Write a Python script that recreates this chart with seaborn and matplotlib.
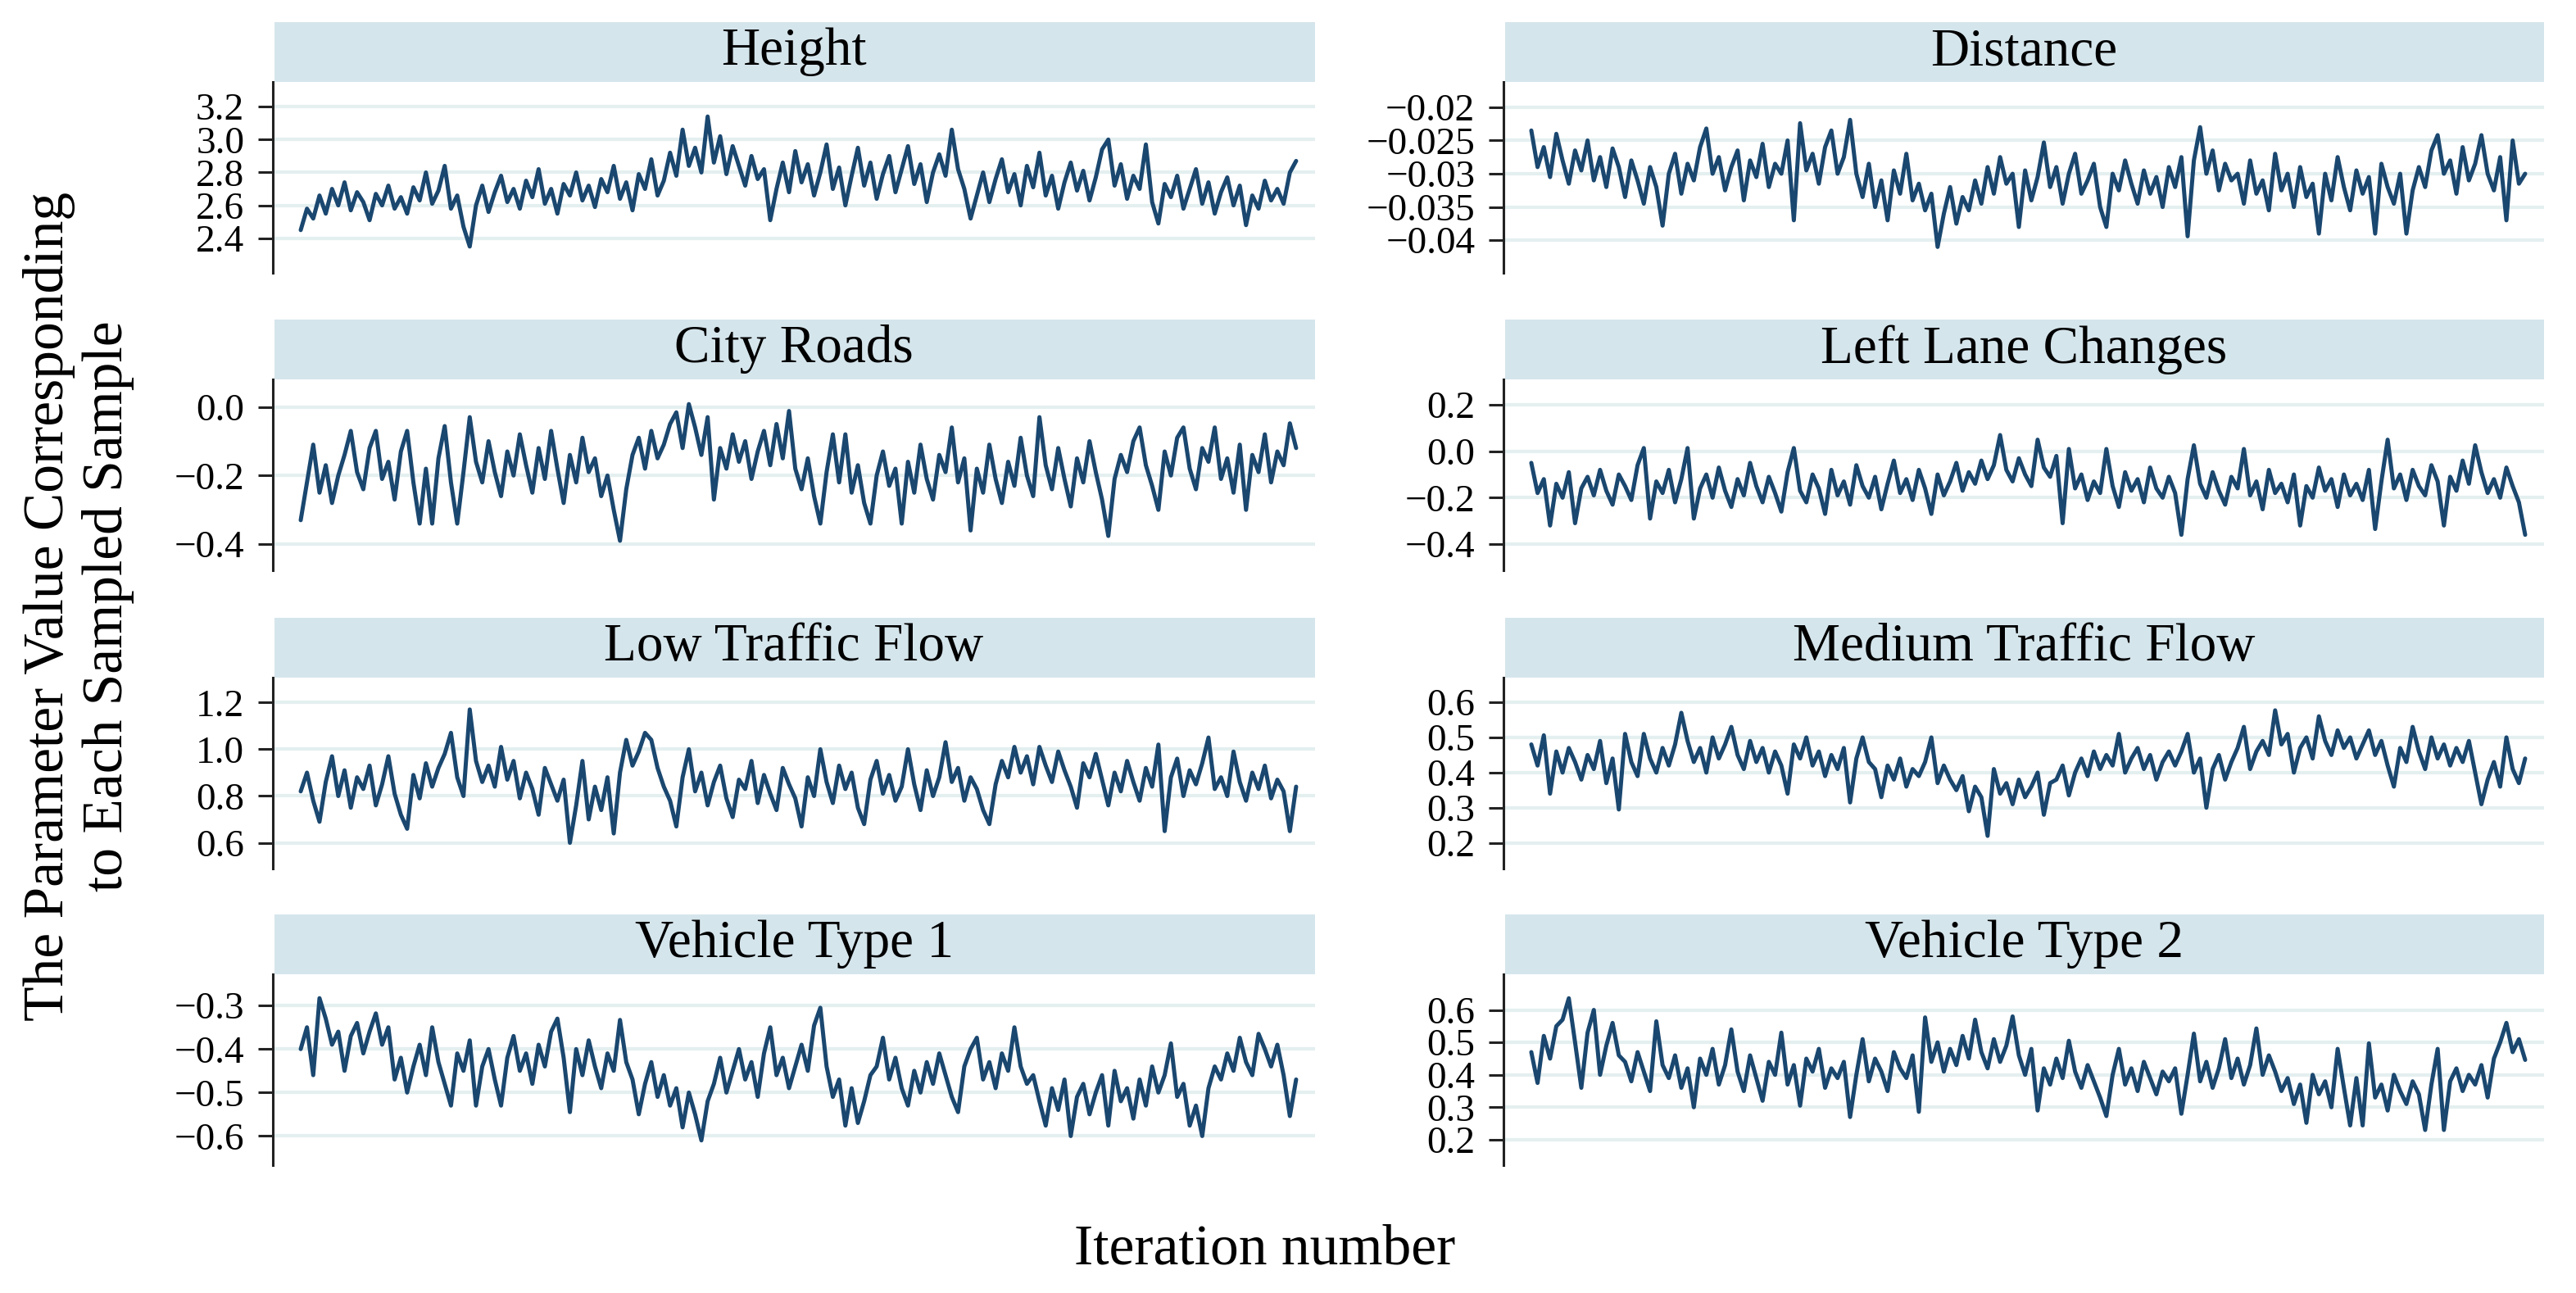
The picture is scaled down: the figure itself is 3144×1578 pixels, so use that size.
import numpy as np
import pandas as pd
import matplotlib
matplotlib.use("Agg")
import matplotlib.pyplot as plt
from matplotlib.patches import Rectangle
import seaborn as sns

# trace values (thinned, approx.)
height = [2.45, 2.58, 2.52, 2.66, 2.55, 2.70, 2.60, 2.74, 2.57, 2.68, 2.62, 2.51, 2.67, 2.60, 2.72, 2.58, 2.65, 2.55, 2.71, 2.63, 2.80, 2.61, 2.69, 2.84, 2.58, 2.66, 2.47,
          2.35,
          2.60, 2.72, 2.56, 2.68, 2.78, 2.62, 2.70, 2.58, 2.75, 2.65, 2.82, 2.61, 2.70, 2.55, 2.73, 2.66, 2.80, 2.63, 2.72, 2.59, 2.76, 2.68, 2.84, 2.64, 2.74, 2.57, 2.79, 2.70, 2.88, 2.66, 2.75,
          2.92, 2.78, 3.06, 2.84, 2.95, 2.80, 3.14, 2.86, 3.02, 2.79, 2.96,
          2.84, 2.72, 2.90, 2.76, 2.82, 2.51, 2.70, 2.86, 2.68, 2.93, 2.74,
          2.85, 2.66, 2.80, 2.97, 2.70, 2.83, 2.60, 2.78, 2.95, 2.72, 2.86, 2.64, 2.79, 2.90, 2.68, 2.82, 2.96, 2.73, 2.85, 2.62, 2.80, 2.91,
          2.78, 3.06, 2.82, 2.70, 2.52,
          2.66, 2.80, 2.62, 2.76, 2.88, 2.68, 2.79, 2.60, 2.84, 2.71, 2.92, 2.66, 2.78, 2.58, 2.74, 2.86, 2.69, 2.81, 2.63, 2.77, 2.94, 3.00, 2.72, 2.85, 2.64, 2.78, 2.70, 2.97,
          2.62, 2.49, 2.73, 2.65, 2.78, 2.58, 2.70, 2.82, 2.61, 2.74, 2.55, 2.68, 2.77, 2.60, 2.72, 2.48, 2.66, 2.58, 2.75, 2.63, 2.70, 2.61, 2.80, 2.87]

distance = [-0.0235, -0.0290, -0.0260, -0.0305, -0.0240, -0.0280, -0.0315, -0.0265, -0.0295, -0.0250, -0.0310, -0.0275, -0.0320, -0.0262, -0.0290,
            -0.0335, -0.0280, -0.0310, -0.0345, -0.0290, -0.0320, -0.0378, -0.0300, -0.0270, -0.0330, -0.0285,
            -0.0310, -0.0260, -0.0232, -0.0300, -0.0275, -0.0325, -0.0290, -0.0265, -0.0340, -0.0280, -0.0305, -0.0255, -0.0320, -0.0285, -0.0300, -0.0250, -0.0370, -0.0224, -0.0295, -0.0270, -0.0315, -0.0260, -0.0235, -0.0300, -0.0275, -0.0219,
            -0.0300, -0.0335, -0.0285, -0.0350, -0.0310, -0.0370, -0.0295, -0.0330, -0.0270, -0.0340, -0.0315, -0.0355,
            -0.0330, -0.0410, -0.0360, -0.0320, -0.0375, -0.0335, -0.0355, -0.0310, -0.0345,
            -0.0290, -0.0330, -0.0275, -0.0315, -0.0300, -0.0380, -0.0295, -0.0340, -0.0305, -0.0253, -0.0320, -0.0290, -0.0345, -0.0300, -0.0270, -0.0330, -0.0310, -0.0285, -0.0350, -0.0380, -0.0300, -0.0325, -0.0280, -0.0315, -0.0345, -0.0295, -0.0330, -0.0305, -0.0350,
            -0.0290, -0.0320, -0.0275, -0.0394, -0.0280, -0.0230, -0.0300, -0.0265, -0.0325, -0.0285, -0.0310,
            -0.0300, -0.0345, -0.0280, -0.0330, -0.0310, -0.0355, -0.0270, -0.0325, -0.0300, -0.0350, -0.0290, -0.0335, -0.0315, -0.0390, -0.0300, -0.0340, -0.0275, -0.0320, -0.0355, -0.0295, -0.0330, -0.0305, -0.0390, -0.0285, -0.0320, -0.0345, -0.0300, -0.0390, -0.0325,
            -0.0290, -0.0320, -0.0265, -0.0242, -0.0300, -0.0280, -0.0330, -0.0260, -0.0310, -0.0285, -0.0242, -0.0300, -0.0325, -0.0275, -0.0370, -0.0250, -0.0315, -0.0300]

city_roads = [-0.33, -0.22, -0.11, -0.25, -0.17, -0.28, -0.20, -0.14, -0.07, -0.19, -0.24, -0.12, -0.07, -0.21, -0.16, -0.27, -0.13, -0.07, -0.22,
              -0.34, -0.18, -0.34, -0.15, -0.056, -0.22, -0.34, -0.19,
              -0.03, -0.16, -0.22, -0.10, -0.19, -0.26, -0.13, -0.20, -0.08, -0.17, -0.25, -0.12, -0.21, -0.07, -0.18, -0.28, -0.14, -0.22, -0.09, -0.19, -0.15, -0.26,
              -0.20, -0.30, -0.39, -0.24, -0.14,
              -0.09, -0.18, -0.07, -0.15, -0.11,
              -0.05, -0.016, -0.12, 0.008, -0.06, -0.14, -0.03,
              -0.27, -0.12, -0.18, -0.08, -0.16, -0.10, -0.21, -0.13, -0.07, -0.17, -0.05, -0.15, -0.012,
              -0.18, -0.24, -0.15, -0.26, -0.34, -0.19, -0.08, -0.22, -0.08, -0.25, -0.17, -0.28, -0.34, -0.20, -0.13, -0.23, -0.18, -0.34, -0.16, -0.25, -0.11, -0.21, -0.27, -0.14,
              -0.19, -0.06, -0.22, -0.15, -0.36, -0.18, -0.25, -0.11, -0.21, -0.28, -0.16, -0.23, -0.09, -0.20, -0.26, -0.03, -0.17, -0.24, -0.12, -0.21, -0.29, -0.15, -0.22, -0.10, -0.19, -0.27, -0.376,
              -0.21, -0.14, -0.19, -0.10, -0.06, -0.17, -0.23, -0.30, -0.13, -0.20, -0.09, -0.06, -0.18, -0.24, -0.12, -0.16, -0.06, -0.21, -0.15, -0.25, -0.11, -0.30, -0.14, -0.19, -0.08, -0.22, -0.13, -0.17, -0.048, -0.12]

left_lane = [-0.05, -0.18, -0.12, -0.32, -0.14, -0.20, -0.09, -0.31, -0.16, -0.11,
             -0.19, -0.08, -0.17, -0.23, -0.10, -0.15, -0.21, -0.06,
             0.014, -0.29, -0.13, -0.18, -0.08, -0.22, -0.12, 0.014, -0.29,
             -0.16, -0.10, -0.20, -0.07, -0.17, -0.24, -0.12, -0.19, -0.05, -0.15, -0.22, -0.11, -0.18, -0.26, -0.09,
             0.014,
             -0.17, -0.22, -0.10, -0.16, -0.27, -0.08, -0.19, -0.13, -0.23, -0.06, -0.15, -0.20, -0.11, -0.25, -0.14, -0.04, -0.18, -0.12, -0.21, -0.08, -0.16, -0.27, -0.10, -0.19, -0.13, -0.05, -0.17,
             -0.09, -0.14, -0.04, -0.12, -0.06, 0.07, -0.08, -0.13, -0.03, -0.10, -0.15, 0.05, -0.07, -0.11, -0.02,
             -0.31, 0.01, -0.16, -0.10, -0.21, -0.13, -0.18, 0.01, -0.15, -0.24, -0.09, -0.17, -0.12, -0.22, -0.07, -0.16, -0.20, -0.11, -0.18,
             -0.36, -0.12, 0.026,
             -0.14, -0.20, -0.09, -0.17, -0.23, -0.11, -0.16, 0.01, -0.19, -0.13, -0.25, -0.08, -0.18, -0.14, -0.22, -0.10, -0.32, -0.15, -0.20, -0.07, -0.17, -0.12, -0.24, -0.10, -0.19, -0.14, -0.21, -0.08,
             -0.335, -0.13, 0.05,
             -0.16, -0.10, -0.21, -0.08, -0.15, -0.19, -0.06, -0.13, -0.32, -0.11, -0.17, -0.04, -0.14, 0.026, -0.09, -0.18, -0.12, -0.20, -0.07, -0.15, -0.22,
             -0.36]

low_traffic = [0.82, 0.90, 0.78, 0.69, 0.86, 0.97, 0.80, 0.91, 0.75, 0.88, 0.83, 0.93, 0.76, 0.85, 0.97, 0.81, 0.72, 0.66, 0.89, 0.79, 0.94, 0.84,
               0.92, 0.98, 1.07, 0.88, 0.80, 1.17, 0.95, 0.86,
               0.93, 0.84, 1.01, 0.87, 0.95, 0.79, 0.90, 0.83, 0.72, 0.92, 0.85,
               0.78, 0.87, 0.60, 0.76, 0.95, 0.70, 0.84, 0.74, 0.88, 0.64,
               0.90, 1.04, 0.93, 0.99, 1.07, 1.04, 0.92,
               0.84, 0.78, 0.67, 0.88, 1.00, 0.82, 0.90, 0.76, 0.86, 0.93, 0.79, 0.71, 0.87, 0.83, 0.95, 0.77, 0.89, 0.81, 0.74, 0.92, 0.85, 0.79, 0.67,
               0.88, 0.80, 1.00, 0.86, 0.77, 0.93, 0.83, 0.90, 0.75, 0.68, 0.87, 0.95, 0.81, 0.89, 0.78, 0.84, 1.00, 0.85, 0.74, 0.91, 0.80, 0.88,
               1.03, 0.86, 0.92, 0.78, 0.88, 0.83, 0.74, 0.68, 0.85,
               0.95, 0.88, 1.01, 0.90, 0.97, 0.85, 1.01, 0.93, 0.86, 0.99, 0.91, 0.84, 0.75, 0.94, 0.88, 0.98, 0.87, 0.76,
               0.90, 0.82, 0.95, 0.86, 0.78, 0.92, 0.84, 1.02, 0.65, 0.88, 0.96, 0.80, 0.91, 0.85, 0.94, 1.05, 0.83,
               0.88, 0.80, 0.99, 0.86, 0.78, 0.90, 0.83, 0.93, 0.79, 0.87, 0.82, 0.65, 0.84]

medium_traffic = [0.48, 0.42, 0.506, 0.34, 0.46, 0.40, 0.47, 0.43, 0.38, 0.45, 0.41, 0.49, 0.37, 0.44, 0.295, 0.51, 0.43, 0.39, 0.51, 0.44, 0.40, 0.47, 0.42, 0.48,
                  0.57,
                  0.49, 0.43, 0.47, 0.40, 0.50, 0.44, 0.48, 0.53, 0.45, 0.41, 0.49, 0.43, 0.47, 0.40, 0.46, 0.42, 0.34, 0.48, 0.44, 0.50, 0.42, 0.46, 0.39, 0.45, 0.41, 0.47, 0.315, 0.44, 0.50, 0.43,
                  0.41, 0.33, 0.42, 0.38, 0.44, 0.36, 0.41, 0.39, 0.43, 0.50, 0.37, 0.42, 0.38,
                  0.35, 0.39, 0.29, 0.36, 0.33, 0.22, 0.41, 0.34, 0.37, 0.31, 0.38, 0.33, 0.36, 0.40, 0.28, 0.37,
                  0.38, 0.42, 0.335, 0.40, 0.44, 0.39, 0.46, 0.41, 0.45, 0.42, 0.51, 0.40, 0.44, 0.47, 0.41, 0.45, 0.38, 0.43, 0.46,
                  0.42, 0.46, 0.51, 0.40, 0.44, 0.30, 0.41, 0.45, 0.38, 0.43, 0.47, 0.53, 0.41, 0.46,
                  0.49, 0.45, 0.577, 0.48, 0.51, 0.40, 0.47, 0.50, 0.44, 0.56, 0.49, 0.45, 0.52, 0.47, 0.50, 0.44, 0.48, 0.52,
                  0.45, 0.49, 0.42, 0.36, 0.47, 0.43, 0.53, 0.46, 0.41, 0.50, 0.44, 0.48, 0.42, 0.47, 0.43, 0.49,
                  0.40, 0.31, 0.38, 0.43, 0.36, 0.50, 0.41, 0.37, 0.44]

vehicle_type1 = [-0.40, -0.35, -0.46, -0.283, -0.33, -0.39, -0.36, -0.45, -0.37, -0.34, -0.41, -0.36, -0.318, -0.39, -0.35,
                 -0.47, -0.42, -0.50, -0.44, -0.39, -0.46, -0.35, -0.43, -0.48, -0.53, -0.41, -0.45, -0.38, -0.53, -0.44, -0.40, -0.47, -0.53, -0.42, -0.37, -0.45, -0.41, -0.48, -0.39, -0.44, -0.36, -0.33,
                 -0.42, -0.545, -0.40, -0.46, -0.38, -0.44, -0.49, -0.41, -0.45, -0.333, -0.43,
                 -0.47, -0.55, -0.48, -0.43, -0.51, -0.46, -0.53, -0.49, -0.58, -0.50, -0.55, -0.61, -0.52,
                 -0.48, -0.42, -0.50, -0.45, -0.40, -0.47, -0.43, -0.51, -0.41, -0.35, -0.46, -0.42, -0.49, -0.44, -0.39, -0.45, -0.346, -0.305,
                 -0.44, -0.51, -0.47, -0.576, -0.49, -0.57, -0.52, -0.46,
                 -0.44, -0.374, -0.47, -0.42, -0.49, -0.53, -0.45, -0.50, -0.43, -0.48, -0.41, -0.46, -0.51, -0.545, -0.44, -0.40, -0.374, -0.47, -0.43, -0.49, -0.41, -0.45, -0.35, -0.44, -0.48,
                 -0.46, -0.52, -0.576, -0.49, -0.54, -0.47, -0.60, -0.51, -0.48, -0.55, -0.50, -0.46, -0.576, -0.45, -0.52, -0.49, -0.56, -0.47, -0.53, -0.44, -0.50, -0.46, -0.387, -0.51, -0.48, -0.576, -0.53, -0.60,
                 -0.49, -0.44, -0.47, -0.41, -0.45, -0.374, -0.43, -0.46, -0.365, -0.40, -0.44, -0.39, -0.46, -0.554, -0.47]

vehicle_type2 = [0.47, 0.375, 0.52, 0.45, 0.55, 0.57, 0.636, 0.50, 0.36, 0.53, 0.60, 0.40, 0.49, 0.56, 0.46,
                 0.44, 0.38, 0.47, 0.41, 0.35, 0.565, 0.43, 0.39, 0.46, 0.36, 0.42, 0.30, 0.45, 0.40, 0.48, 0.37, 0.43, 0.54, 0.41, 0.35, 0.46, 0.39, 0.32, 0.44, 0.40, 0.53, 0.37, 0.43, 0.305, 0.45, 0.41, 0.48, 0.36, 0.42, 0.39,
                 0.44, 0.27, 0.40, 0.51, 0.38, 0.45, 0.41, 0.35, 0.47, 0.42, 0.39, 0.46, 0.286,
                 0.577, 0.44, 0.50, 0.41, 0.48, 0.43, 0.52, 0.45, 0.57, 0.47, 0.42, 0.51, 0.44, 0.49, 0.58, 0.46, 0.40, 0.48,
                 0.29, 0.42, 0.37, 0.45, 0.39, 0.505, 0.41, 0.36, 0.43, 0.38, 0.33, 0.273, 0.40, 0.48, 0.37, 0.42, 0.35, 0.44, 0.39, 0.34, 0.41, 0.38,
                 0.42, 0.28, 0.40, 0.527, 0.38, 0.44, 0.36, 0.42, 0.51, 0.39, 0.45, 0.37, 0.43, 0.543, 0.40, 0.46,
                 0.41, 0.35, 0.39, 0.31, 0.37, 0.252, 0.40, 0.34, 0.38, 0.30, 0.48, 0.36, 0.244, 0.39, 0.244, 0.497, 0.33, 0.37, 0.29, 0.40, 0.35, 0.31, 0.38, 0.34, 0.23, 0.37, 0.48, 0.23,
                 0.38, 0.42, 0.35, 0.40, 0.37, 0.43, 0.33,
                 0.45, 0.50, 0.56, 0.47, 0.51, 0.446]

titles = ["Height", "Distance", "City Roads", "Left Lane Changes",
          "Low Traffic Flow", "Medium Traffic Flow", "Vehicle Type 1", "Vehicle Type 2"]
series = [height, distance, city_roads, left_lane,
          low_traffic, medium_traffic, vehicle_type1, vehicle_type2]

tick_values = [[2.4, 2.6, 2.8, 3.0, 3.2],
               [-0.04, -0.035, -0.03, -0.025, -0.02],
               [-0.4, -0.2, 0.0],
               [-0.4, -0.2, 0.0, 0.2],
               [0.6, 0.8, 1.0, 1.2],
               [0.2, 0.3, 0.4, 0.5, 0.6],
               [-0.6, -0.5, -0.4, -0.3],
               [0.2, 0.3, 0.4, 0.5, 0.6]]
tick_labels = [["2.4", "2.6", "2.8", "3.0", "3.2"],
               ["\u22120.04", "\u22120.035", "\u22120.03", "\u22120.025", "\u22120.02"],
               ["\u22120.4", "\u22120.2", "0.0"],
               ["\u22120.4", "\u22120.2", "0.0", "0.2"],
               ["0.6", "0.8", "1.0", "1.2"],
               ["0.2", "0.3", "0.4", "0.5", "0.6"],
               ["\u22120.6", "\u22120.5", "\u22120.4", "\u22120.3"],
               ["0.2", "0.3", "0.4", "0.5", "0.6"]]
y_limits = [(2.19, 3.35), (-0.0449, -0.0162), (-0.476, 0.08), (-0.513, 0.31),
            (0.49, 1.306), (0.127, 0.670), (-0.667, -0.228), (0.1215, 0.71)]

sns.set_theme(style="white")
plt.rcParams["font.family"] = ["Liberation Serif", "DejaVu Serif"]

W, H = 3144, 1578
fig = plt.figure(figsize=(W / 100, H / 100), dpi=100)

line_color = "#1a476f"
strip_color = "#d5e5ec"
grid_color = "#e4eff0"

col_left = [333, 1835]
col_right = [1605, 3105]
row_top = [100, 463, 827, 1189]
row_h = 233
strip_h = 73

for k, (name, vals) in enumerate(zip(titles, series)):
    r, c = divmod(k, 2)
    x0, x1 = col_left[c], col_right[c]
    y0 = row_top[r]
    ax = fig.add_axes([x0 / W, 1 - (y0 + row_h) / H, (x1 - x0) / W, row_h / H])
    df = pd.DataFrame({"iteration": np.arange(len(vals)), "value": vals})
    sns.lineplot(data=df, x="iteration", y="value", ax=ax, color=line_color,
                 lw=3.6, estimator=None)
    n = len(vals) - 1
    ax.set_xlim(-0.028 * n, 1.019 * n)
    ax.set_ylim(*y_limits[k])
    ax.set_yticks(tick_values[k])
    ax.set_yticklabels(tick_labels[k])
    ax.set_xticks([])
    ax.set_xlabel("")
    ax.set_ylabel("")
    for t in tick_values[k]:
        ax.axhline(t, color=grid_color, lw=3, zorder=0)
    for s in ["top", "right", "bottom"]:
        ax.spines[s].set_visible(False)
    ax.spines["left"].set_color("#222222")
    ax.spines["left"].set_linewidth(2.2)
    ax.tick_params(axis="y", left=True, length=13, width=2.2, color="#222222",
                   pad=12, labelsize=34, labelcolor="black")

    # strip header
    fig.patches.append(Rectangle(((x0 + 2) / W, 1 - y0 / H), (x1 - x0 - 2) / W, strip_h / H,
                                 transform=fig.transFigure, facecolor=strip_color,
                                 edgecolor="none", zorder=0))
    fig.text((x0 + x1) / 2 / W, 1 - (y0 - strip_h / 2) / H, name,
             ha="center", va="center", fontsize=47, color="black")

fig.text(0.0305, 0.531, "The Parameter Value Corresponding\nto Each Sampled Sample",
         rotation=90, ha="center", va="center", fontsize=50, linespacing=1.15, color="black")
fig.text(0.491, 0.033, "Iteration number", ha="center", va="center", fontsize=50, color="black")

fig.savefig("out.png", dpi=100, facecolor="white")
